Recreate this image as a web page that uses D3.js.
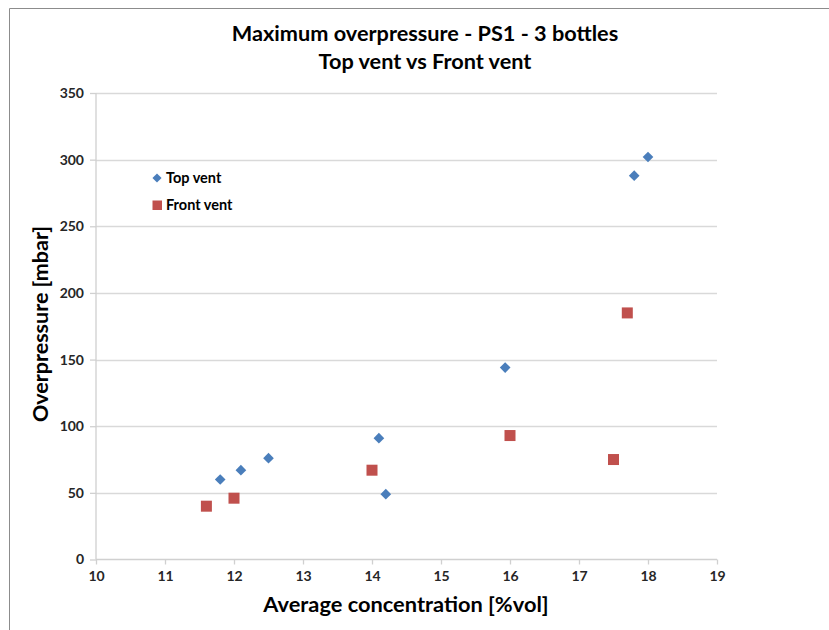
<!DOCTYPE html>
<html><head><meta charset="utf-8">
<script src="https://cdn.jsdelivr.net/npm/d3@7"></script>
<style>body{margin:0;background:#fff}svg{display:block}</style>
</head><body>
<script>
const titleLines = ["Maximum overpressure - PS1 - 3 bottles", "Top vent vs Front vent"];
const xLabel = "Average concentration [%vol]";
const yLabel = "Overpressure [mbar]";
const seriesNames = ["Top vent", "Front vent"];
const topX = [11.8, 12.1, 12.5, 14.1, 14.2, 15.93, 17.8, 18.0];
const topY = [60, 67, 76, 91, 49, 144, 288, 302];
const frontX = [11.6, 12.0, 14.0, 16.0, 17.5, 17.7];
const frontY = [40, 46, 67, 93, 75, 185];
const xTicks = [10, 11, 12, 13, 14, 15, 16, 17, 18, 19];
const yTicks = [0, 50, 100, 150, 200, 250, 300, 350];

const W = 829, H = 630;
const font = "Lato, 'Open Sans', sans-serif";
const svg = d3.select("body").append("svg").attr("width", W).attr("height", H);

// border
svg.append("path").attr("d", `M9.5,${H} V8.5 H${W}`).attr("fill", "none").attr("stroke", "#8c8c8c").attr("stroke-width", 1);

const x = d3.scaleLinear().domain([10, 19]).range([96, 717]);
const y = d3.scaleLinear().domain([0, 350]).range([559.5, 93]);

// gridlines
svg.append("g").selectAll("line").data(yTicks.filter(d => d > 0)).join("line")
  .attr("x1", x(10)).attr("x2", x(19))
  .attr("y1", d => Math.round(y(d)) + 0.5).attr("y2", d => Math.round(y(d)) + 0.5)
  .attr("stroke", "#d9d9d9").attr("stroke-width", 1.3);

// axes
const yAxis = svg.append("g").attr("transform", `translate(${x(10)},0)`)
  .call(d3.axisLeft(y).tickValues(yTicks).tickSize(6).tickPadding(6).tickFormat(d3.format("d")));
const xAxis = svg.append("g").attr("transform", `translate(0,${y(0)})`)
  .call(d3.axisBottom(x).tickValues(xTicks).tickSize(5).tickPadding(7).tickFormat(d3.format("d")));
[yAxis, xAxis].forEach(a => {
  a.selectAll("path,line").attr("stroke", "#d0d0d0").attr("stroke-width", 1.3);
  a.selectAll("text").attr("font-family", font).attr("font-weight", "bold").attr("font-size", 14).attr("fill", "#262626");
});
xAxis.select(".domain").attr("d", `M${x(10)},0H${x(19)}`);
yAxis.select(".domain").attr("d", `M0,${y(0)}V${y(350)}`);

// title
svg.append("g").selectAll("text").data(titleLines).join("text")
  .attr("x", 425).attr("y", (d, i) => 41 + i * 28)
  .attr("text-anchor", "middle").attr("font-family", font).attr("font-weight", "bold")
  .attr("font-size", 21.7).attr("fill", "#000").text(d => d);

// axis labels
svg.append("text").attr("x", 406).attr("y", 612).attr("text-anchor", "middle")
  .attr("font-family", font).attr("font-weight", "bold").attr("font-size", 21.8).attr("fill", "#000").text(xLabel);
svg.append("text").attr("transform", `translate(48,324) rotate(-90)`).attr("text-anchor", "middle")
  .attr("font-family", font).attr("font-weight", "bold").attr("font-size", 21.5).attr("fill", "#000").text(yLabel);

const blue = "#4a7ebb", red = "#c0504d";
const topData = topX.map((v, i) => [v, topY[i]]);
const frontData = frontX.map((v, i) => [v, frontY[i]]);

svg.append("g").selectAll("path").data(topData).join("path")
  .attr("transform", d => `translate(${x(d[0])},${y(d[1])}) rotate(45)`)
  .attr("d", d3.symbol().type(d3.symbolSquare).size(57)).attr("fill", blue);
svg.append("g").selectAll("rect").data(frontData).join("rect")
  .attr("x", d => x(d[0]) - 5.5).attr("y", d => y(d[1]) - 5.5).attr("width", 11).attr("height", 11)
  .attr("fill", red);

// legend
const leg = svg.append("g");
leg.append("path").attr("transform", "translate(157,178) rotate(45)")
  .attr("d", d3.symbol().type(d3.symbolSquare).size(42)).attr("fill", blue);
leg.append("rect").attr("x", 152.5).attr("y", 200.5).attr("width", 9.5).attr("height", 9.5).attr("fill", red);
leg.selectAll("text").data(seriesNames).join("text")
  .attr("x", 166).attr("y", (d, i) => 183 + i * 27)
  .attr("font-family", font).attr("font-weight", "bold").attr("font-size", 14.5).attr("fill", "#000").text(d => d);
</script>
</body></html>
